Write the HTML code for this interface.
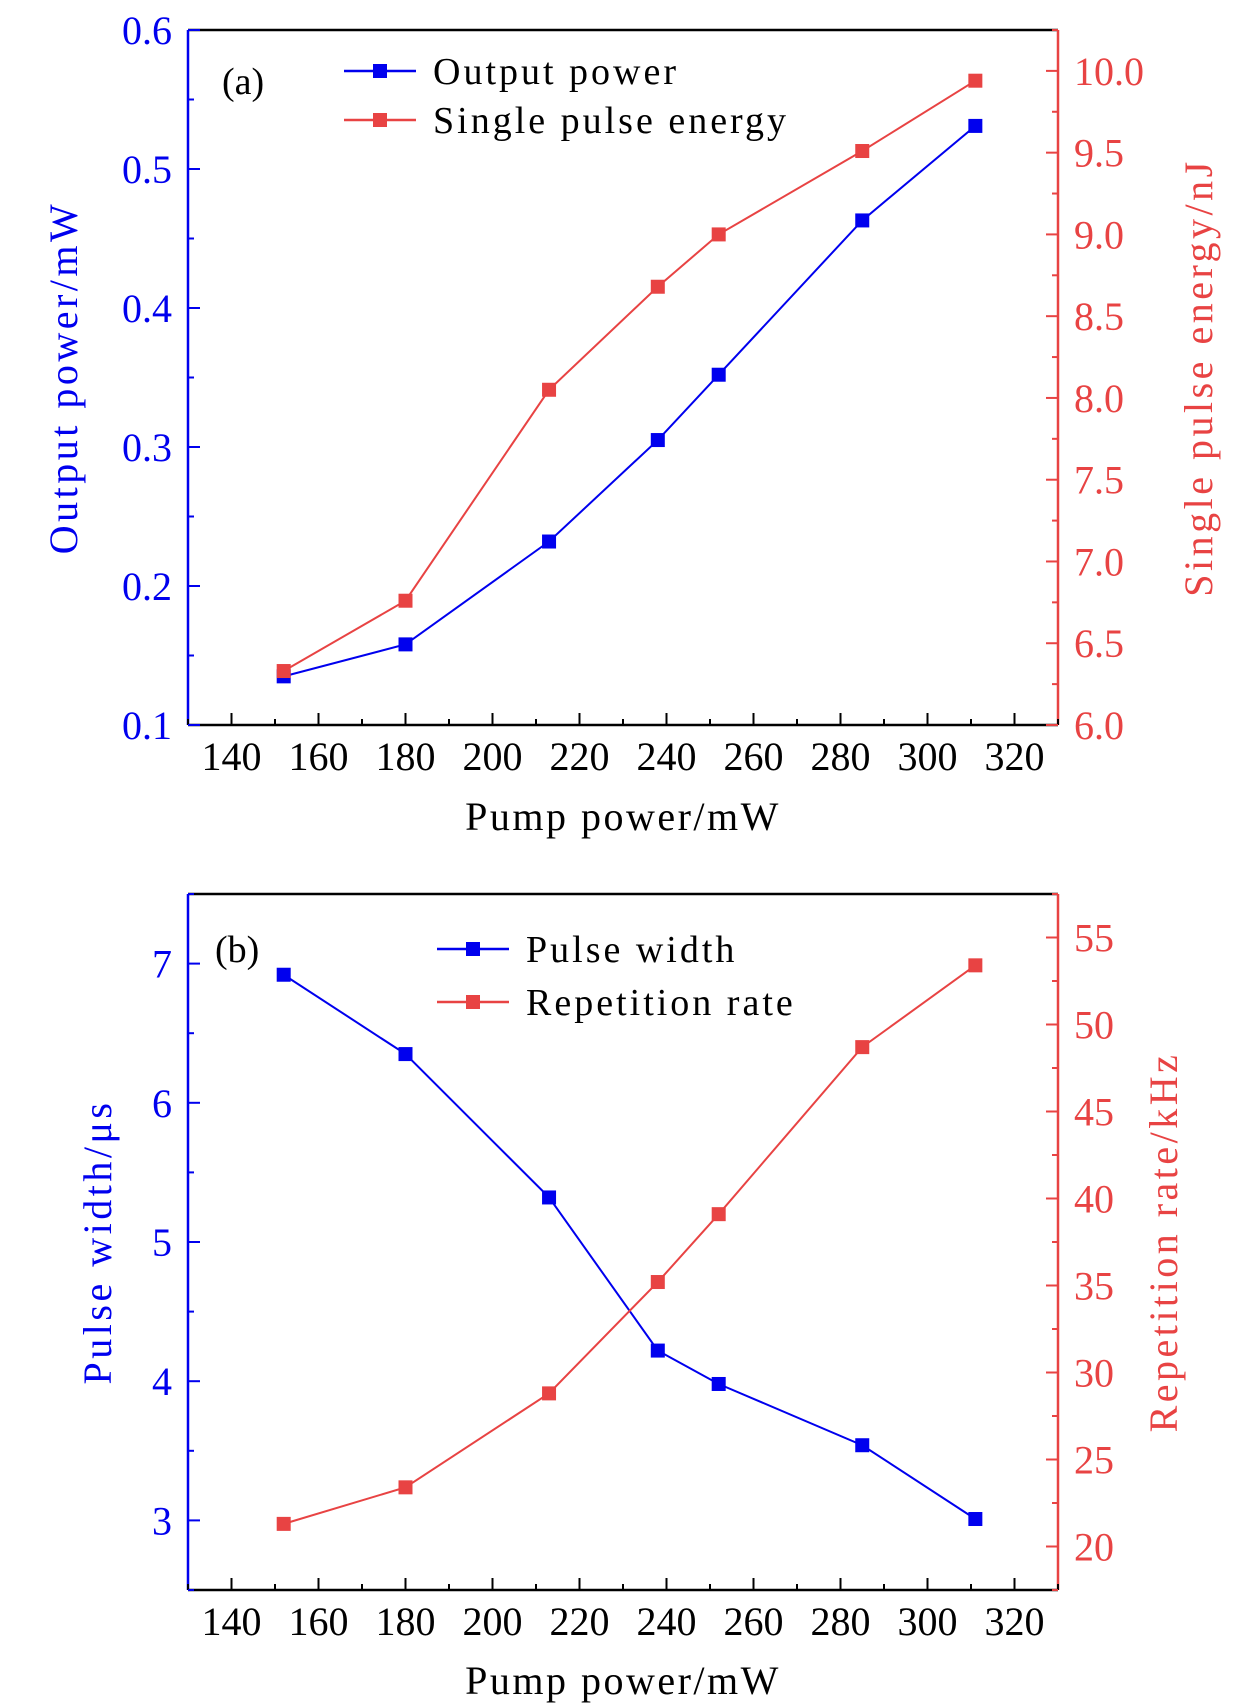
<!DOCTYPE html>
<html><head><meta charset="utf-8"><style>
body{margin:0;background:#fff}
svg{display:block;font-family:"Liberation Serif",serif}
</style></head><body>
<svg id="chart" width="1260" height="1706" viewBox="0 0 1260 1706"></svg>
<script>
const pumpPower=[152,180,213,238,252,285,311];
const outputPower=[0.135,0.158,0.232,0.305,0.352,0.463,0.531];
const pulseEnergy=[6.33,6.76,8.05,8.68,9.0,9.51,9.94];
const pulseWidth=[6.92,6.35,5.32,4.22,3.98,3.54,3.01];
const repRate=[21.3,23.4,28.8,35.2,39.1,48.7,53.4];
const xTicks=[140,160,180,200,220,240,260,280,300,320];
const aLeftTicks=[0.1,0.2,0.3,0.4,0.5,0.6];
const aRightTicks=[6.0,6.5,7.0,7.5,8.0,8.5,9.0,9.5,10.0];
const bLeftTicks=[3,4,5,6,7];
const bRightTicks=[20,25,30,35,40,45,50,55];

const NS="http://www.w3.org/2000/svg";
const svg=document.getElementById('chart');
const BLUE="#0000ee",RED="#e84343";
function el(t,a,p){const e=document.createElementNS(NS,t);for(const k in a)e.setAttribute(k,a[k]);(p||svg).appendChild(e);return e;}
function txt(s,a,p){const e=el('text',a,p);e.textContent=s;return e;}

function panel(o){
  const g=el('g',{});
  
  
  const L=188,R=1058,T=o.top,B=o.bottom;
  const xs=v=>L+(v-130)/(330-130)*(R-L);
  const yl=v=>B-(v-o.lmin)/(o.lmax-o.lmin)*(B-T);
  const yr=v=>B-(v-o.rmin)/(o.rmax-o.rmin)*(B-T);
  el('line',{x1:L,y1:T,x2:R,y2:T,stroke:'#000','stroke-width':2.5},g);
  el('line',{x1:L,y1:B,x2:R,y2:B,stroke:'#000','stroke-width':2.5},g);
  el('line',{x1:L,y1:T,x2:L,y2:B,stroke:BLUE,'stroke-width':2.5},g);
  el('line',{x1:R,y1:T,x2:R,y2:B,stroke:RED,'stroke-width':2.5},g);
  const xt=el('g',{},g);
  
  
  xTicks.forEach((v,i)=>{
    const x=xs(v);
    el('line',{x1:x,y1:B,x2:x,y2:B-12,stroke:'#000','stroke-width':2},xt);
    el('line',{x1:x+(xs(10)-xs(0)),y1:B,x2:x+(xs(10)-xs(0)),y2:B-6,stroke:'#000','stroke-width':2},xt);
    txt(String(v),{x:x,y:B+45,'text-anchor':'middle','font-size':40,fill:'#000'},xt);
  });
  el('line',{x1:xs(130),y1:B,x2:xs(130),y2:B-6,stroke:'#000','stroke-width':2},xt);
  const lt=el('g',{},g);
  
  
  const lstep=o.lTicks[1]-o.lTicks[0];
  o.lTicks.forEach(v=>{
    const y=yl(v);
    el('line',{x1:L,y1:y,x2:L+12,y2:y,stroke:BLUE,'stroke-width':2},lt);
    const ym=yl(v+lstep/2);
    if(ym>=T) el('line',{x1:L,y1:ym,x2:L+6,y2:ym,stroke:BLUE,'stroke-width':2},lt);
    const ym2=yl(v-lstep/2);
    if(ym2<=B+1 && v===o.lTicks[0]) el('line',{x1:L,y1:ym2,x2:L+6,y2:ym2,stroke:BLUE,'stroke-width':2},lt);
    txt(o.lFmt(v),{x:172,y:y+14,'text-anchor':'end','font-size':40,fill:BLUE},lt);
  });
  const rt=el('g',{},g);
  
  
  const rstep=o.rTicks[1]-o.rTicks[0];
  o.rTicks.forEach(v=>{
    const y=yr(v);
    el('line',{x1:R,y1:y,x2:R-12,y2:y,stroke:RED,'stroke-width':2},rt);
    const ym=yr(v+rstep/2);
    if(ym>=T) el('line',{x1:R,y1:ym,x2:R-6,y2:ym,stroke:RED,'stroke-width':2},rt);
    const ym2=yr(v-rstep/2);
    if(ym2<=B && v===o.rTicks[0]) el('line',{x1:R,y1:ym2,x2:R-6,y2:ym2,stroke:RED,'stroke-width':2},rt);
    txt(o.rFmt(v),{x:1074,y:y+14,'text-anchor':'start','font-size':40,fill:RED},rt);
  });
  const xtTitle=txt('Pump power/mW',{x:623,y:o.xTitleY,'text-anchor':'middle','font-size':40,'letter-spacing':2.5,fill:'#000'},g);
  
  
  const lt2=txt(o.lTitle,{x:0,y:0,'text-anchor':'middle','font-size':40,'letter-spacing':3.5,fill:BLUE,transform:`translate(${o.lTitleX},${(T+B)/2}) rotate(-90)`},g);
  
  
  const rt2=txt(o.rTitle,{x:0,y:0,'text-anchor':'middle','font-size':40,'letter-spacing':3.5,fill:RED,transform:`translate(${o.rTitleX},${(T+B)/2}) rotate(-90)`},g);
  
  
  const lab=txt(o.label,{x:o.labelX,y:o.labelY,'font-size':38,fill:'#000'},g);
  
  
  function series(vals,ys,color,name){
    const sg=el('g',{},g);
    
    
    el('polyline',{points:vals.map((v,i)=>xs(pumpPower[i])+','+ys(v)).join(' '),fill:'none',stroke:color,'stroke-width':2},sg);
    vals.forEach((v,i)=>{
      const r=el('rect',{x:xs(pumpPower[i])-7,y:ys(v)-7,width:14,height:14,fill:color},sg);
      
      
    });
  }
  series(o.lData,yl,BLUE,o.lSeriesName);
  series(o.rData,yr,RED,o.rSeriesName);
  const lg=el('g',{},g);
  
  
  [[o.lLegend,BLUE,o.legY1],[o.rLegend,RED,o.legY2]].forEach(([s,c,y])=>{
    const e=el('g',{},lg);
    
    
    el('line',{x1:o.legX,y1:y,x2:o.legX+72,y2:y,stroke:c,'stroke-width':2.5},e);
    el('rect',{x:o.legX+29,y:y-7,width:14,height:14,fill:c},e);
    txt(s,{x:o.legX+89,y:y+13,'font-size':38,fill:'#000','letter-spacing':3},e);
  });
}

panel({name:'panel-a',top:30,bottom:725,lmin:0.1,lmax:0.6,rmin:6.0,rmax:10.25,
  lTicks:aLeftTicks,rTicks:aRightTicks,lFmt:v=>v.toFixed(1),rFmt:v=>v.toFixed(1),
  lData:outputPower,rData:pulseEnergy,lSeriesName:'output-power-series',rSeriesName:'single-pulse-energy-series',
  lTitle:'Output power/mW',rTitle:'Single pulse energy/nJ',lTitleX:77,rTitleX:1212,xTitleY:830,
  label:'(a)',labelX:222,labelY:94,legX:344,legY1:71,legY2:120,lLegend:'Output power',rLegend:'Single pulse energy'});
panel({name:'panel-b',top:894,bottom:1590,lmin:2.5,lmax:7.5,rmin:17.5,rmax:57.5,
  lTitle:'Pulse width/μs',rTitle:'Repetition rate/kHz',lTitleX:111,rTitleX:1177,xTitleY:1694,
  lTicks:bLeftTicks,rTicks:bRightTicks,lFmt:v=>String(v),rFmt:v=>String(v),
  lData:pulseWidth,rData:repRate,lSeriesName:'pulse-width-series',rSeriesName:'repetition-rate-series',
  label:'(b)',labelX:215,labelY:962,legX:437,legY1:949,legY2:1002,lLegend:'Pulse width',rLegend:'Repetition rate'});
</script>
</body></html>
